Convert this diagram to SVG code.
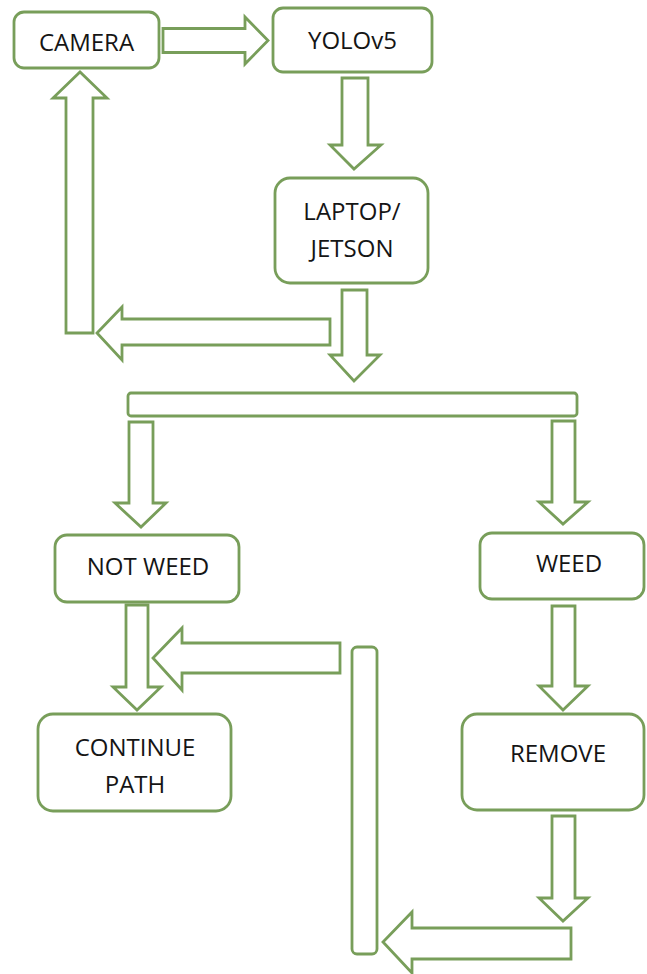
<svg xmlns="http://www.w3.org/2000/svg" width="647" height="974" viewBox="0 0 647 974">
<style>
.box{fill:#fff;stroke:#789e5a;stroke-width:2.8}
.arr{fill:#fff;stroke:#789e5a;stroke-width:2.8;stroke-linejoin:miter}
.t{font-family:"Open Sans","Liberation Sans",sans-serif;font-size:24px;fill:#151515;text-anchor:middle}
</style>
<rect width="647" height="974" fill="#fff"/>
<g id="connectors">
<polygon class="arr" points="163,28.5 245,28.5 245,17 268,40.5 245,64 245,52.5 163,52.5"/>
<polygon class="arr" points="342,78 368,78 368,145 381,145 354,169 330,145 342,145"/>
<polygon class="arr" points="342,290 367,290 367,355 380,355 354,381 330,355 342,355"/>
<polygon class="arr" points="330,319 122,319 122,307 97,333 122,360 122,345 330,345"/>
<polygon class="arr" points="66,333 66,98 53,98 80,72 107,98 93,98 93,333"/>
<rect id="split-bar" class="arr" x="128" y="393" width="449" height="23" rx="3"/>
<polygon class="arr" points="129,422 153,422 153,503 166,503 141,527 115,503 129,503"/>
<polygon class="arr" points="552,421 575,421 575,502 588,502 563,524 539,502 552,502"/>
<polygon class="arr" points="126,605 148,605 148,687 161,687 137,710 113,687 126,687"/>
<polygon class="arr" points="340,643 182,643 182,628 153,658 182,690 182,673 340,673"/>
<polygon class="arr" points="552,606 575,606 575,686 588,686 563,710 539,686 552,686"/>
<rect id="merge-bar" class="arr" x="352" y="647" width="25" height="307" rx="5"/>
<polygon class="arr" points="552,816 575,816 575,898 588,898 563,921 539,898 552,898"/>
<polygon class="arr" points="571,928 412,928 412,912 383,942 412,973 412,959 571,959"/>
</g>
<g id="camera">
<rect class="box" x="14" y="12" width="145" height="56" rx="10"/>
<text class="t" x="86.5" y="51">CAMERA</text>
</g>
<g id="yolov5">
<rect class="box" x="273" y="8" width="159" height="64" rx="10"/>
<text class="t" x="352.5" y="49">YOLOv5</text>
</g>
<g id="laptop">
<rect class="box" x="275" y="178" width="153" height="105" rx="15"/>
<text class="t" x="352" y="220">LAPTOP/</text>
<text class="t" x="352" y="257">JETSON</text>
</g>
<g id="not-weed">
<rect class="box" x="55" y="535" width="184" height="67" rx="12"/>
<text class="t" x="148" y="575">NOT WEED</text>
</g>
<g id="weed">
<rect class="box" x="480" y="533" width="164" height="66" rx="12"/>
<text class="t" x="569" y="572">WEED</text>
</g>
<g id="continue-path">
<rect class="box" x="38" y="714" width="193" height="97" rx="15"/>
<text class="t" x="135" y="756">CONTINUE</text>
<text class="t" x="135" y="793">PATH</text>
</g>
<g id="remove">
<rect class="box" x="462" y="714" width="182" height="96" rx="15"/>
<text class="t" x="558" y="762">REMOVE</text>
</g>
</svg>
